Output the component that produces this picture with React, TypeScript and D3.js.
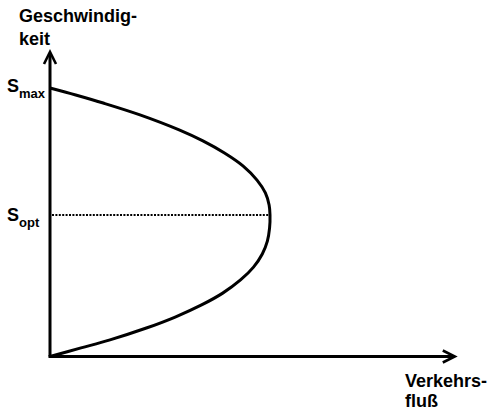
import React from "react";
import * as d3 from "d3";

// Fundamental diagram: speed (vertical) vs. traffic flow (horizontal), normalized units
const speedValues = [
  1.0, 0.974, 0.944, 0.9, 0.844, 0.803, 0.758, 0.71, 0.657, 0.609, 0.564, 0.527,
  0.478, 0.43, 0.382, 0.333, 0.285, 0.236, 0.192, 0.147, 0.106, 0.061, 0.032, 0,
];
const flowValues = [
  0, 0.117, 0.242, 0.409, 0.587, 0.695, 0.793, 0.877, 0.941, 0.979, 0.996, 1.0,
  0.998, 0.988, 0.965, 0.925, 0.866, 0.785, 0.689, 0.569, 0.438, 0.269, 0.141, 0,
];
const sMax = 1.0;
const sOpt = 0.527;
const flowAxisMax = 1.84;
const speedAxisMax = 1.134;
const yTitleLines = ["Geschwindig-", "keit"];
const xTitleLines = ["Verkehrs-", "fluß"];
const speedTickLabels = [
  { value: sMax, main: "S", sub: "max" },
  { value: sOpt, main: "S", sub: "opt" },
];

const W = 490;
const H = 410;

export default function App() {
  const x = d3.scaleLinear().domain([0, 1]).range([50, 270]);
  const y = d3.scaleLinear().domain([0, 1]).range([356.5, 88]);

  const pts = speedValues.map((v, i) => [flowValues[i], v] as [number, number]);
  const line = d3
    .line<[number, number]>()
    .x((d) => x(d[0]))
    .y((d) => y(d[1]))
    .curve(d3.curveCatmullRom.alpha(0.5));

  const x0 = x(0);
  const y0 = y(0);
  const xEnd = x(flowAxisMax);
  const yEnd = y(speedAxisMax);
  const yOpt = Math.round(y(sOpt));
  const font = "'Liberation Sans', Arial, Helvetica, sans-serif";

  return (
    <svg
      width={W}
      height={H}
      style={{ position: "absolute", left: 0, top: 0, background: "#fff" }}
    >
      {/* axes */}
      <line x1={x0} y1={y0} x2={x0} y2={yEnd + 1} stroke="#000" strokeWidth={3} />
      <line x1={x0 - 1.5} y1={y0} x2={xEnd - 1} y2={y0} stroke="#000" strokeWidth={3} />
      {/* arrow heads */}
      <polyline
        points={`${x0 - 6},${yEnd + 12} ${x0},${yEnd} ${x0 + 6},${yEnd + 12}`}
        fill="none"
        stroke="#000"
        strokeWidth={2.6}
        strokeLinejoin="miter"
      />
      <polyline
        points={`${xEnd - 12},${y0 - 6} ${xEnd},${y0} ${xEnd - 12},${y0 + 6}`}
        fill="none"
        stroke="#000"
        strokeWidth={2.6}
        strokeLinejoin="miter"
      />
      {/* dotted line at S_opt */}
      <line
        x1={x0 + 2}
        y1={yOpt}
        x2={x(1) - 1}
        y2={yOpt}
        stroke="#000"
        strokeWidth={2}
        strokeDasharray="2 1.4"
      />
      {/* curve */}
      <path d={line(pts) || ""} fill="none" stroke="#000" strokeWidth={3} />
      {/* speed tick labels */}
      {speedTickLabels.map((t, i) => (
        <text
          key={i}
          x={7}
          y={y(t.value) + (i === 0 ? 4 : 6)}
          fontFamily={font}
          fontWeight="bold"
          fontSize={18}
          fill="#000"
        >
          {t.main}
          <tspan fontSize={13} dy={6}>
            {t.sub}
          </tspan>
        </text>
      ))}
      {/* y title */}
      {yTitleLines.map((s, i) => (
        <text
          key={s}
          x={19}
          y={22 + i * 22.5}
          fontFamily={font}
          fontWeight="bold"
          fontSize={18}
          fill="#000"
        >
          {s}
        </text>
      ))}
      {/* x title */}
      {xTitleLines.map((s, i) => (
        <text
          key={s}
          x={405}
          y={387 + i * 20}
          fontFamily={font}
          fontWeight="bold"
          fontSize={18}
          fill="#000"
        >
          {s}
        </text>
      ))}
    </svg>
  );
}
